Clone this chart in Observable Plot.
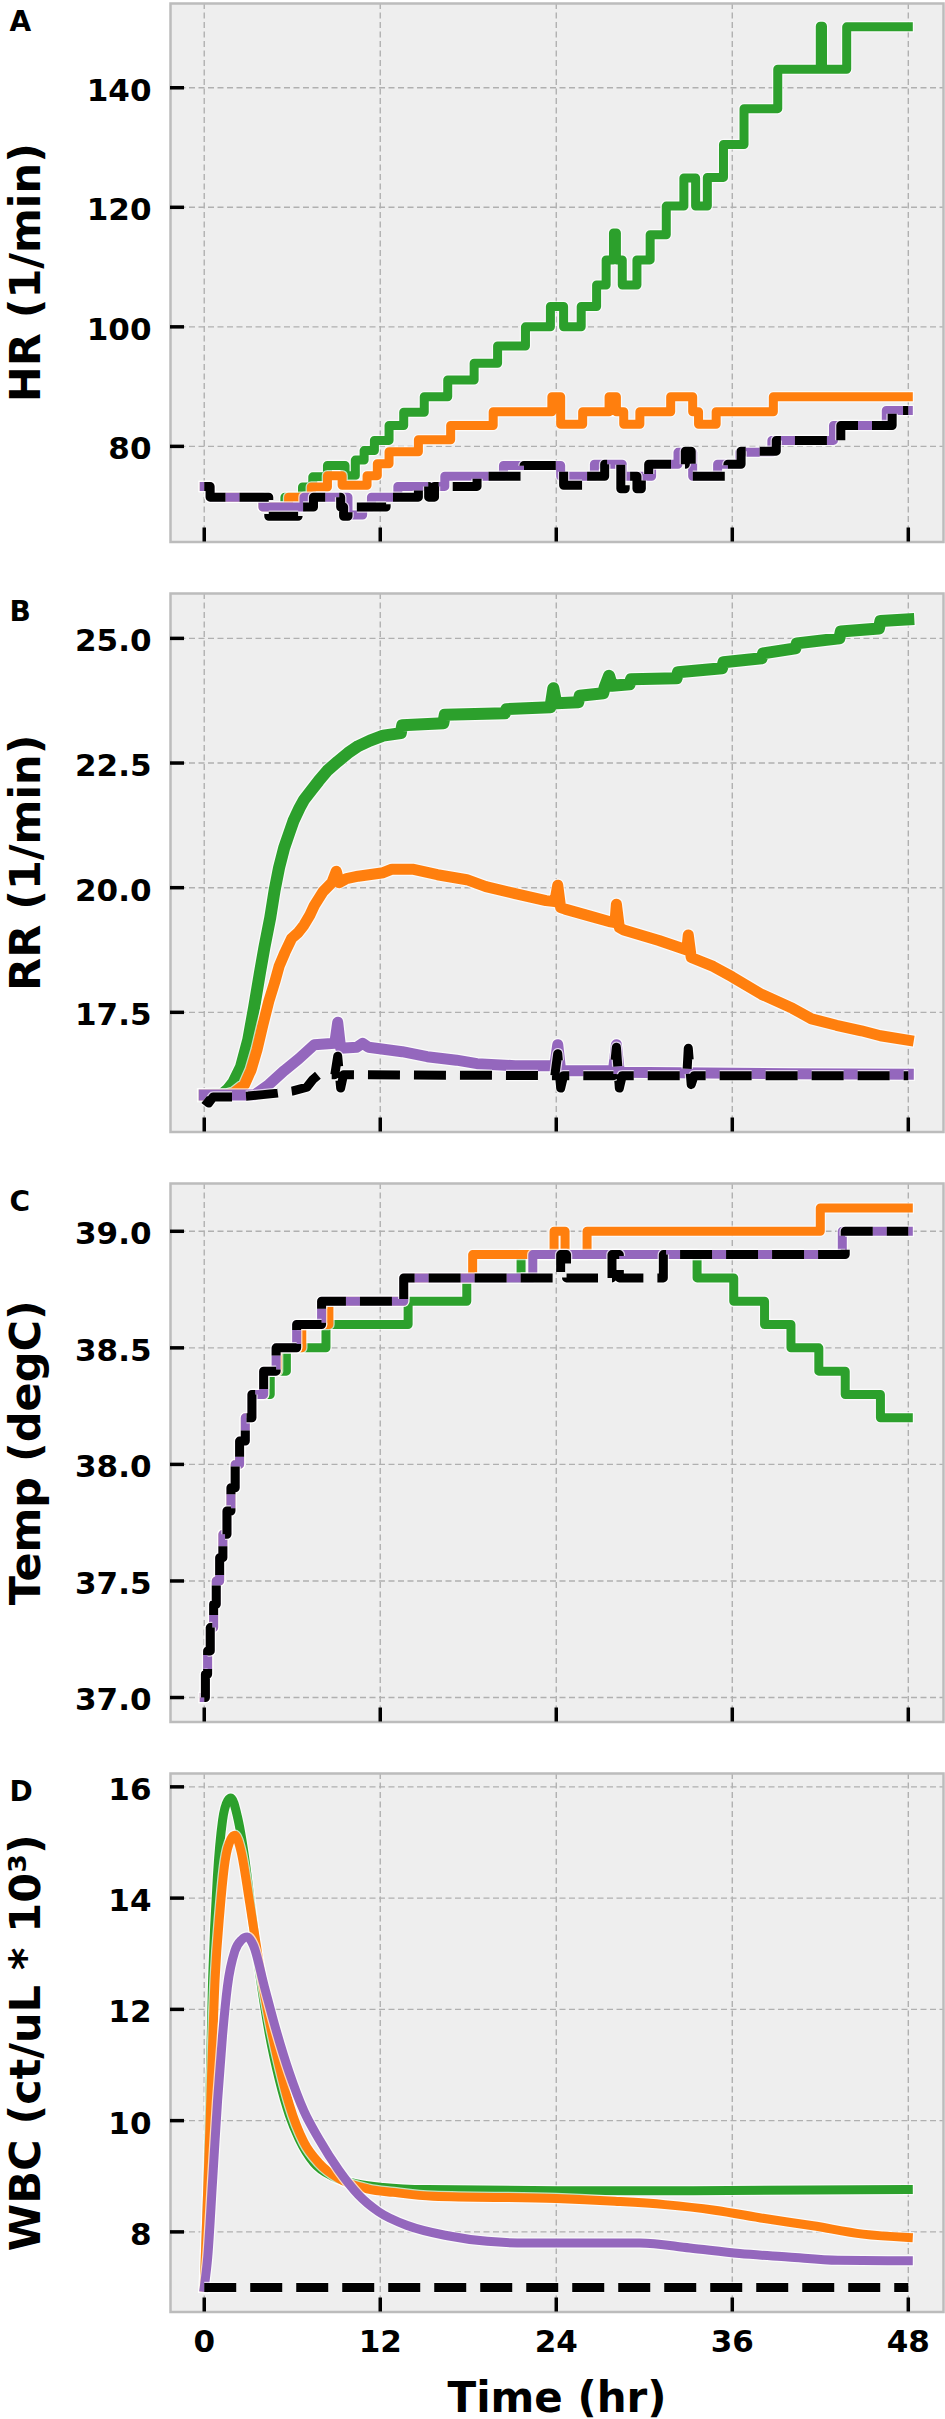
<!DOCTYPE html>
<html><head><meta charset="utf-8">
<script src="https://cdn.jsdelivr.net/npm/d3@7"></script>
<script src="https://cdn.jsdelivr.net/npm/@observablehq/plot@0.6"></script>
<style>
body{margin:0;background:#fff;}
#chart svg{display:block;}
</style></head><body><div id="chart"></div>
<script>
// ---------- shared ----------
const timeTicks = [0, 12, 24, 36, 48];
const seriesColors = ["#2ca02c", "#ff7f0e", "#9467bd", "#000000"]; // green, orange, purple, black(dashed)

// ---------- Panel A: HR (1/min), step data [t, value] ----------
const hrTicks = [80, 100, 120, 140];
const hrGreen = [[0,73.3],[0.4,71.5],[4.0,69.85],[5.5,71.5],[6.7,73.2],[7.4,74.9],[8.4,76.8],[9.6,75.1],[10.3,77.7],[10.9,79.3],[11.6,81.0],[12.6,83.5],[13.6,85.7],[15.0,88.3],[16.6,91.1],[18.4,93.9],[20.0,96.8],[21.9,100],[23.6,103.4],[24.5,100],[25.7,103.4],[26.75,107],[27.4,111.2],[27.9,115.7],[28.1,111.2],[28.5,107],[29.5,111.2],[30.4,115.4],[31.5,120.2],[32.7,124.9],[33.5,120.2],[34.3,125],[35.4,130.5],[36.8,136.5],[39.1,143.1],[42.0,150.3],[42.15,143.1],[43.8,150.2],[48,150.2]];
const hrOrange = [[0,73.3],[0.4,71.5],[4.0,69.85],[5.75,71.5],[7.3,73.2],[8.4,75.1],[9.4,73.5],[11.1,75.1],[11.8,77.1],[12.6,79.1],[14.6,81.1],[16.8,83.5],[19.7,85.8],[23.7,88.3],[24.3,83.7],[25.8,85.8],[27.6,88.3],[28.1,85.8],[28.6,83.7],[29.7,85.8],[31.8,88.3],[33.3,85.8],[33.7,83.7],[34.9,85.8],[38.8,88.3],[48,88.3]];
const hrPurple = [[0,73.3],[0.4,71.5],[4.0,69.85],[6.8,71.5],[9.8,68.5],[10.8,69.85],[11.4,71.5],[13.2,73.3],[16.4,75.0],[20.4,76.8],[24.3,75.0],[26.6,77.0],[28.5,75.0],[30.5,77.0],[32.3,79.0],[33.3,75.0],[35.0,77.0],[36.5,79.0],[38.7,81.0],[42.9,83.5],[46.5,86.0],[48,86.0]];
const hrBlack = [[0,73.3],[0.4,71.5],[4.4,68.3],[6.4,69.85],[7.45,71.5],[9.3,69.85],[9.5,68.3],[9.8,69.85],[12.4,71.5],[14.6,73.3],[15.3,71.5],[15.7,73.3],[18.6,75.0],[21.8,76.8],[24.5,73.5],[26.0,75.0],[27.3,77.0],[28.4,72.9],[28.7,75.0],[29.5,72.9],[29.8,75.0],[30.3,77.0],[32.8,79.2],[33.2,75.0],[35.7,77.0],[36.6,79.2],[39.0,81.0],[43.4,83.5],[46.9,86.0],[48,86.0]];

// ---------- Panel B: RR (1/min), [t, value] ----------
const rrTicks = [17.5, 20.0, 22.5, 25.0];
const rrGreen = [[0,15.84],[1.2,15.85],[1.6,15.95],[2.0,16.1],[2.5,16.4],[3.0,16.95],[3.4,17.6],[3.8,18.3],[4.1,18.8],[4.5,19.4],[4.8,19.95],[5.1,20.4],[5.45,20.8],[5.8,21.1],[6.1,21.35],[6.5,21.6],[6.8,21.76],[7.3,21.95],[7.8,22.14],[8.4,22.35],[9.1,22.53],[9.8,22.7],[10.5,22.84],[11.3,22.95],[12.2,23.05],[13.4,23.1],[13.5,23.26],[16.3,23.3],[16.4,23.47],[20.5,23.5],[20.6,23.58],[23.6,23.62],[23.8,24.0],[24.0,23.7],[25.5,23.72],[25.6,23.85],[27.2,23.9],[27.3,24.02],[27.6,24.25],[27.8,24.05],[29.0,24.08],[29.1,24.18],[32.2,24.2],[32.3,24.32],[35.3,24.4],[35.4,24.52],[38.0,24.6],[38.1,24.7],[40.3,24.8],[40.4,24.9],[43.3,25.0],[43.4,25.14],[46.0,25.2],[46.1,25.35],[48,25.38]];
const rrOrange = [[0,15.84],[1.5,15.84],[2.0,15.88],[2.75,16.05],[3.2,16.35],[3.6,16.75],[4.0,17.25],[4.4,17.72],[4.8,18.1],[5.1,18.42],[5.5,18.7],[5.95,18.98],[6.4,19.1],[6.8,19.25],[7.2,19.45],[7.5,19.64],[8.1,19.92],[8.7,20.1],[9.0,20.33],[9.2,20.1],[9.7,20.18],[10.5,20.23],[12.2,20.3],[12.8,20.37],[14.2,20.37],[15.9,20.26],[17.9,20.16],[19.2,20.02],[21.2,19.88],[23.3,19.74],[23.9,19.72],[24.1,20.05],[24.3,19.6],[24.6,19.57],[26.3,19.43],[27.6,19.32],[28.0,19.3],[28.1,19.67],[28.3,19.2],[28.6,19.15],[31.0,18.94],[32.7,18.77],[32.9,18.75],[33.0,19.05],[33.2,18.6],[34.7,18.42],[36.0,18.21],[38.0,17.86],[40.1,17.58],[41.4,17.37],[43.1,17.24],[44.8,17.13],[46.1,17.03],[48,16.94]];
const rrPurple = [[0,15.84],[3.4,15.84],[4.4,16.05],[5.45,16.33],[6.45,16.57],[7.5,16.85],[8.9,16.88],[9.1,17.3],[9.3,16.78],[10.4,16.8],[10.8,16.88],[11.2,16.8],[13.5,16.71],[15.2,16.61],[17.2,16.54],[18.6,16.47],[21.2,16.43],[23.9,16.43],[24.1,16.85],[24.3,16.33],[27.9,16.33],[28.1,16.85],[28.3,16.3],[40,16.27],[48,16.26]];
const rrBlack = [[0,15.75],[0.3,15.68],[0.6,15.8],[2,15.8],[3,15.82],[4,15.85],[5,15.88],[6,15.92],[7,16.0],[7.4,16.15],[7.8,16.25],[8.9,16.25],[9.1,16.62],[9.3,15.98],[9.5,16.25],[23.9,16.23],[24.1,16.67],[24.3,15.98],[24.5,16.23],[27.9,16.23],[28.1,16.8],[28.3,15.98],[28.5,16.23],[32.9,16.23],[33.0,16.78],[33.2,16.05],[33.4,16.23],[48,16.23]];

// ---------- Panel C: Temp (degC), step data ----------
const tempTicks = [37.0, 37.5, 38.0, 38.5, 39.0];
const tempPurple = [[0,37.0],[0.08,37.1],[0.23,37.2],[0.41,37.3],[0.64,37.4],[0.82,37.5],[1.05,37.6],[1.27,37.7],[1.55,37.8],[1.82,37.9],[2.11,38.0],[2.41,38.1],[2.8,38.2],[3.25,38.3],[4.05,38.4],[4.9,38.5],[6.3,38.6],[8.0,38.7],[13.6,38.8],[22.4,38.9],[43.5,39.0],[48,39.0]];
const tempBlack = [[0,37.0],[0.08,37.1],[0.23,37.2],[0.41,37.3],[0.64,37.4],[0.82,37.5],[1.05,37.6],[1.27,37.7],[1.55,37.8],[1.82,37.9],[2.11,38.0],[2.41,38.1],[2.8,38.2],[3.25,38.3],[4.05,38.4],[4.9,38.5],[6.3,38.6],[8.0,38.7],[13.6,38.8],[24.3,38.9],[24.7,38.8],[27.8,38.9],[28.3,38.8],[31.3,38.9],[43.7,39.0],[48,39.0]];
const tempOrange = [[0,37.0],[0.08,37.1],[0.23,37.2],[0.41,37.3],[0.64,37.4],[0.82,37.5],[1.05,37.6],[1.27,37.7],[1.55,37.8],[1.82,37.9],[2.11,38.0],[2.41,38.1],[2.8,38.2],[3.25,38.3],[4.05,38.4],[5.0,38.5],[6.65,38.6],[8.5,38.7],[13.6,38.8],[18.3,38.9],[23.85,39.0],[24.6,38.9],[26.1,39.0],[42.0,39.1],[48,39.1]];
const tempGreen = [[0,37.0],[0.08,37.1],[0.23,37.2],[0.41,37.3],[0.64,37.4],[0.82,37.5],[1.05,37.6],[1.27,37.7],[1.55,37.8],[1.82,37.9],[2.11,38.0],[2.41,38.1],[2.8,38.2],[3.25,38.3],[4.5,38.4],[5.6,38.5],[8.3,38.6],[13.9,38.7],[17.9,38.8],[21.6,38.9],[33.6,38.8],[36.1,38.7],[38.2,38.6],[40.0,38.5],[41.9,38.4],[43.7,38.3],[46.1,38.2],[48,38.2]];

// ---------- Panel D: WBC (ct/uL * 10^3), smooth ----------
const wbcTicks = [8, 10, 12, 14, 16];
const wbcGreen = [[0,7.0],[0.24,8.8],[0.57,12.54],[0.9,14.4],[1.25,15.4],[1.6,15.75],[1.82,15.8],[2.26,15.47],[2.76,14.72],[3.27,13.66],[3.77,12.66],[4.45,11.54],[5.12,10.73],[5.8,10.1],[6.47,9.67],[7.48,9.24],[8.83,8.99],[10.5,8.86],[12.2,8.8],[15.2,8.76],[24,8.74],[31.4,8.74],[48,8.76]];
const wbcOrange = [[0,7.0],[0.35,9.6],[0.74,12.54],[1.08,13.79],[1.42,14.66],[1.82,15.06],[2.09,15.13],[2.5,14.85],[3.1,13.91],[3.77,12.79],[4.45,11.79],[5.12,10.98],[5.8,10.29],[6.8,9.61],[7.82,9.24],[9.17,8.96],[11.2,8.77],[12.9,8.71],[15.6,8.64],[24,8.6],[28,8.55],[31.4,8.49],[34.8,8.39],[38.2,8.24],[41.5,8.11],[44.9,7.96],[48,7.9]];
const wbcPurple = [[0,7.0],[0.24,7.55],[0.57,8.92],[0.91,10.36],[1.25,11.54],[1.58,12.41],[2.09,13.05],[2.55,13.25],[2.93,13.3],[3.35,13.15],[4.1,12.41],[4.79,11.73],[5.8,10.86],[6.8,10.17],[7.82,9.67],[9.17,9.11],[10.5,8.67],[11.9,8.36],[13.9,8.11],[16.6,7.93],[19.3,7.83],[22,7.8],[29.7,7.8],[33.1,7.71],[36.5,7.61],[39.8,7.55],[43.2,7.49],[48,7.48]];
const wbcBlack = [[0,7.0],[48,7.0]];

// ---------- layout ----------
const W = 945, ML = 170, MR = 2, MT = 3, IH = 538.5;
const IW = W - ML - MR;
const xDomain = [-2.3, 50.4];
const FONT = "'DejaVu Sans', sans-serif";
const gridStyle = {stroke: "#b0b0b0", strokeOpacity: 1, strokeWidth: 1.4, strokeDasharray: "6,3.5"};

function panel({letter, title, yDomain, yTicks, yFmt, series, widths, curve, last}) {
  const H = last ? 649 : 590;
  const MB = H - MT - IH;
  const marks = [
    Plot.frame({fill: "#eeeeee", stroke: null}),
    Plot.gridY(yTicks, gridStyle),
    Plot.gridX(timeTicks, gridStyle)
  ];
  series.forEach((pts, i) => {
    const dashed = i === 3;
    const common = {
      x: d => d[0], y: d => d[1], curve,
      strokeLinejoin: "round",
      strokeLinecap: dashed ? "butt" : "square",
      strokeDasharray: dashed ? "32,14" : undefined
    };
    marks.push(Plot.line(pts, {...common, stroke: "#ffffff", strokeWidth: widths[i] + 2.5, strokeOpacity: 0.7}));
    marks.push(Plot.line(pts, {...common, stroke: seriesColors[i], strokeWidth: widths[i]}));
  });
  marks.push(
    Plot.frame({stroke: "#bcbcbc", strokeWidth: 2.5}),
    Plot.tickY(yTicks, {y: d => d, insetRight: IW - 14, stroke: "#000", strokeWidth: 3.5}),
    Plot.tickX(timeTicks, {x: d => d, insetTop: IH - 14, stroke: "#000", strokeWidth: 3.5}),
    Plot.text(yTicks, {y: d => d, text: yFmt, frameAnchor: "left", textAnchor: "end", dx: -19, dy: 3,
      fontSize: 31, fontWeight: "bold", fill: "#000"}),
    Plot.text([title], {frameAnchor: "left", textAnchor: "middle", dx: -144, rotate: -90,
      fontSize: 43, fontWeight: "bold", fill: "#000"}),
    Plot.text([letter], {frameAnchor: "top-left", dx: -161, dy: 8, textAnchor: "start", lineAnchor: "top",
      fontSize: 28, fontWeight: "bold", fill: "#000"})
  );
  if (last) {
    marks.push(
      Plot.text(timeTicks, {x: d => d, text: d => String(d), frameAnchor: "bottom", dy: 40, lineAnchor: "bottom",
        fontSize: 31, fontWeight: "bold", fill: "#000"}),
      Plot.text(["Time (hr)"], {frameAnchor: "bottom", textAnchor: "middle", dy: 100, lineAnchor: "bottom",
        fontSize: 42, fontWeight: "bold", fill: "#000"})
    );
  }
  return Plot.plot({
    width: W, height: H,
    marginLeft: ML, marginRight: MR, marginTop: MT, marginBottom: MB,
    x: {domain: xDomain, axis: null},
    y: {domain: yDomain, axis: null},
    style: {fontFamily: FONT, background: "#ffffff", overflow: "visible"},
    marks
  });
}

const chart = document.getElementById("chart");
chart.appendChild(panel({letter: "A", title: "HR (1/min)", yDomain: [64.0, 154.1], yTicks: hrTicks,
  yFmt: d => String(d), series: [hrGreen, hrOrange, hrPurple, hrBlack], widths: [9, 9, 9, 9], curve: "step-after"}));
chart.appendChild(panel({letter: "B", title: "RR (1/min)", yDomain: [15.1, 25.9], yTicks: rrTicks,
  yFmt: d => d.toFixed(1), series: [rrGreen, rrOrange, rrPurple, rrBlack], widths: [12, 11, 11, 9], curve: "linear"}));
chart.appendChild(panel({letter: "C", title: "Temp (degC)", yDomain: [36.895, 39.205], yTicks: tempTicks,
  yFmt: d => d.toFixed(1), series: [tempGreen, tempOrange, tempPurple, tempBlack], widths: [9, 9, 9, 9], curve: "step-after"}));
chart.appendChild(panel({letter: "D", title: "WBC (ct/uL * 10³)", yDomain: [6.56, 16.24], yTicks: wbcTicks,
  yFmt: d => String(d), series: [wbcGreen, wbcOrange, wbcPurple, wbcBlack], widths: [9, 9, 9, 9], curve: "monotone-x", last: true}));
</script></body></html>
